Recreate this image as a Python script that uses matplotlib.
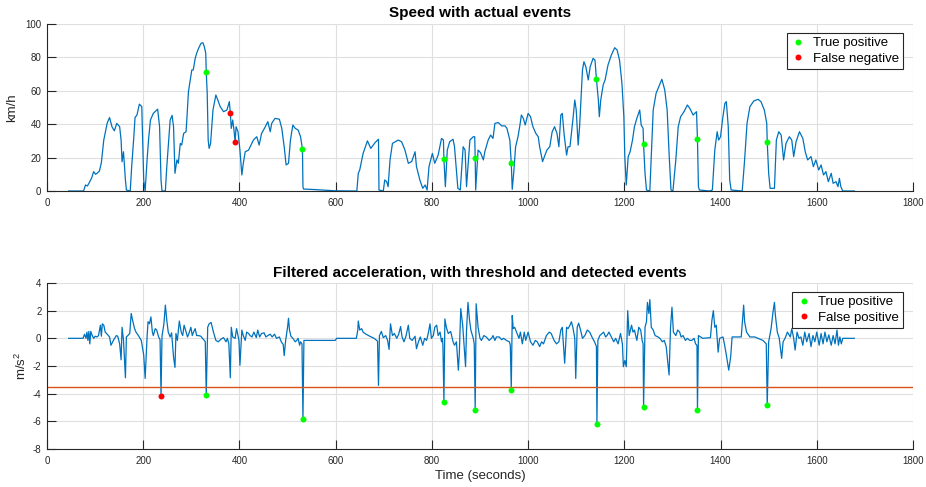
import numpy as np
import matplotlib
matplotlib.use("Agg")
import matplotlib.pyplot as plt

plt.rcParams['font.family'] = ['Liberation Sans', 'DejaVu Sans']
plt.rcParams['mathtext.default'] = 'regular'
plt.rcParams['axes.unicode_minus'] = False

# speed trace (s, km/h)
t_speed = [45, 76, 80, 84, 89, 93, 97, 101, 104, 109, 113, 118, 125, 130, 135, 140, 145, 151, 154, 156,
           159, 163, 165, 173, 176, 180, 183, 187, 192, 197, 201, 204, 208, 211, 215, 221, 230, 234, 237, 239,
           246, 249, 253, 256, 260, 263, 266, 270, 273, 277, 280, 284, 289, 291, 294, 301, 304, 308, 311, 315,
           320, 324, 327, 330, 331, 333, 335, 337, 340, 345, 351, 355, 360, 367, 374, 379, 381, 383, 386, 389,
           391, 393, 397, 401, 405, 408, 412, 419, 424, 429, 436, 441, 446, 452, 459, 464, 467, 474, 483, 488,
           493, 497, 502, 506, 511, 516, 522, 527, 531, 532, 533, 560, 600, 644, 647, 650, 657, 666, 673, 682,
           689, 690, 699, 702, 706, 709, 713, 718, 730, 737, 744, 751, 758, 765, 768, 775, 781, 786, 790, 794,
           801, 806, 813, 820, 824, 825, 828, 832, 837, 844, 847, 854, 859, 865, 869, 872, 879, 886, 889, 890,
           891, 896, 901, 907, 910, 917, 922, 927, 931, 938, 945, 952, 956, 962, 965, 967, 970, 974, 979, 983,
           986, 990, 994, 1000, 1005, 1010, 1016, 1021, 1024, 1030, 1035, 1039, 1045, 1050, 1055, 1060, 1064, 1068, 1071, 1075,
           1080, 1083, 1087, 1093, 1097, 1100, 1104, 1107, 1113, 1116, 1120, 1125, 1129, 1135, 1139, 1142, 1146, 1148, 1151, 1156,
           1160, 1166, 1173, 1180, 1185, 1190, 1195, 1199, 1201, 1204, 1208, 1212, 1217, 1221, 1226, 1232, 1235, 1239, 1240, 1243,
           1246, 1253, 1256, 1260, 1266, 1273, 1278, 1284, 1289, 1293, 1297, 1301, 1307, 1312, 1317, 1324, 1331, 1336, 1343, 1350,
           1352, 1354, 1356, 1377, 1383, 1388, 1393, 1396, 1400, 1404, 1409, 1412, 1416, 1419, 1422, 1445, 1450, 1455, 1461, 1469,
           1478, 1484, 1491, 1496, 1497, 1500, 1503, 1512, 1516, 1521, 1526, 1531, 1536, 1543, 1548, 1552, 1557, 1564, 1571, 1576,
           1581, 1588, 1593, 1598, 1604, 1609, 1614, 1619, 1624, 1630, 1634, 1640, 1644, 1647, 1650, 1654, 1678]
v_speed = [0, 0, 3.6, 3, 5.6, 8, 11.6, 10, 10.6, 12, 17, 30.5, 40.5, 44, 38.5, 36, 40.5, 38.5, 30.5, 17.5,
           23.5, 6.6, 0.6, 0, 14.6, 30.5, 44, 45.5, 52, 50.5, 6.6, 0, 18.6, 30.5, 42.5, 46.5, 49, 38.5, 6.6, 0,
           0, 14.6, 30.5, 42.5, 45.3, 38.5, 10.6, 18.6, 16.6, 28.5, 27.5, 34.5, 35.5, 44.5, 59.5, 72.5, 72.5, 79.4, 82.4, 85.4,
           88.4, 88.8, 86.4, 82.4, 71, 58.5, 30.5, 25.5, 28.5, 48.5, 57.5, 54.5, 50.5, 47.5, 48.5, 53.5, 47, 37.5, 42.5, 35.5,
           29.5, 38.5, 35.5, 24.5, 9.6, 16.6, 23.5, 24.5, 27.5, 30.5, 32.5, 27.5, 34.5, 37.5, 41.5, 35.5, 40.5, 43.5, 43, 37.5,
           26.5, 15.6, 16.6, 30.5, 39.5, 37.5, 36.5, 32.5, 25, 2.6, 1.2, 0.8, 0.1, 0, 10.6, 12.6, 22.5, 30, 25.5, 29,
           31, 0.6, 0, 6.6, 5.6, 2.6, 18.6, 28.5, 30.5, 29.5, 24.5, 16.6, 17.6, 23.5, 14.6, 6.6, 1.6, 3.6, 0.6, 14.6,
           22.5, 16.6, 21.5, 31.5, 30.5, 19, 2.6, 24.5, 29.5, 31, 26.5, 1.6, 0.6, 26.5, 24.5, 2.6, 30.5, 32.5, 32.5, 20,
           0.6, 24.5, 23, 18.6, 23.5, 30.5, 33.5, 31.5, 40.5, 41, 39, 39, 37.5, 30.5, 16.6, 1, 10.6, 26.5, 32.5, 39.5,
           45.5, 43.5, 39.5, 46.5, 44.5, 38.5, 34.5, 32.5, 26.5, 17.6, 21.5, 24.5, 26.5, 35.5, 38.5, 34.5, 26.5, 45.5, 46.5, 33.5,
           21.5, 26.5, 26.5, 42.5, 54.5, 48.5, 27.5, 38.5, 72.5, 77.4, 74.4, 66.5, 74.4, 79.4, 78.4, 67, 54.5, 44.5, 54.5, 63.5,
           66.5, 75.4, 81.4, 85.8, 84.4, 78.4, 64.5, 44.5, 20.6, 3.6, 20.6, 23.5, 30.5, 38.5, 43.5, 48.5, 39.5, 37.5, 28, 10.6,
           0.6, 0, 20.6, 48.5, 58.5, 63.5, 66.9, 60.5, 48.5, 22.5, 0.6, 0, 18.6, 38.5, 44.5, 47.5, 51.5, 49.5, 45.5, 47.5,
           31, 2.6, 0.6, 0, 0.6, 24.5, 35.5, 30.5, 32.5, 42.5, 52.5, 53.5, 38.5, 6.6, 0.6, 0, 18.6, 40.5, 50.5, 53.9,
           54.9, 53.5, 48.5, 40.5, 29.5, 10.6, 1.6, 1.6, 30.5, 35.5, 33.5, 18.6, 28.5, 32.5, 30.5, 20.6, 29.5, 35.5, 31.5, 23.5,
           18.6, 20.6, 14.6, 18.6, 12.6, 15.6, 9.6, 11.6, 5.6, 10.6, 4.6, 5.6, 2.6, 7.6, 2.6, 0, 0]

# actual events on the speed curve
tp_speed_t = [331, 531, 825, 890, 965, 1142, 1240, 1352, 1497]
tp_speed_v = [71, 25, 19, 20, 16.6, 67, 28, 31, 29.5]
fn_speed_t = [381, 391]
fn_speed_v = [47, 29.5]

# filtered acceleration (s, m/s^2)
t_acc = [45, 75, 78, 81, 83, 85, 87, 89, 91, 94, 97, 100, 104, 107, 111, 113, 115, 118, 121, 125,
         130, 133, 138, 144, 147, 151, 154, 156, 159, 163, 165, 168, 172, 175, 178, 182, 185, 190, 196, 201,
         204, 208, 210, 213, 216, 219, 221, 225, 228, 232, 235, 237, 239, 243, 246, 249, 252, 256, 259, 263,
         266, 268, 271, 275, 279, 282, 285, 288, 292, 295, 299, 302, 304, 308, 311, 315, 320, 323, 327, 329,
         331, 334, 337, 341, 346, 351, 356, 362, 367, 372, 375, 378, 381, 383, 386, 391, 394, 399, 401, 405,
         408, 412, 415, 419, 422, 426, 430, 435, 438, 442, 446, 451, 455, 459, 464, 468, 473, 477, 483, 487,
         491, 493, 496, 500, 502, 504, 507, 511, 516, 519, 522, 525, 527, 530, 532, 534, 599, 602, 643, 646,
         647, 650, 654, 657, 663, 671, 680, 687, 689, 691, 695, 699, 704, 708, 711, 714, 718, 722, 727, 731,
         735, 738, 742, 746, 751, 754, 759, 765, 768, 772, 776, 781, 785, 789, 793, 796, 799, 803, 806, 810,
         813, 817, 820, 822, 823, 825, 827, 830, 834, 839, 844, 847, 851, 855, 857, 860, 864, 867, 870, 872,
         875, 878, 881, 886, 888, 890, 892, 896, 900, 903, 908, 913, 919, 924, 927, 931, 934, 940, 945, 949,
         955, 961, 963, 965, 967, 969, 972, 976, 981, 984, 988, 992, 995, 1000, 1005, 1010, 1015, 1019, 1024, 1028,
         1032, 1038, 1044, 1048, 1054, 1059, 1064, 1068, 1071, 1076, 1080, 1083, 1087, 1090, 1093, 1097, 1099, 1102, 1105, 1109,
         1113, 1118, 1123, 1128, 1134, 1138, 1142, 1143, 1145, 1149, 1154, 1157, 1161, 1164, 1168, 1173, 1178, 1182, 1187, 1192,
         1196, 1198, 1201, 1204, 1207, 1210, 1215, 1218, 1221, 1226, 1230, 1234, 1237, 1239, 1240, 1243, 1246, 1248, 1251, 1253,
         1256, 1260, 1264, 1270, 1274, 1279, 1283, 1287, 1290, 1293, 1296, 1299, 1302, 1307, 1311, 1315, 1318, 1322, 1327, 1331,
         1336, 1340, 1345, 1348, 1351, 1352, 1354, 1363, 1379, 1382, 1385, 1388, 1391, 1395, 1398, 1405, 1408, 1412, 1417, 1421,
         1424, 1443, 1448, 1450, 1454, 1461, 1471, 1478, 1488, 1495, 1497, 1500, 1505, 1509, 1512, 1514, 1518, 1522, 1527, 1530,
         1534, 1539, 1545, 1548, 1552, 1555, 1559, 1563, 1567, 1571, 1575, 1579, 1584, 1588, 1592, 1596, 1600, 1605, 1609, 1613,
         1617, 1621, 1625, 1630, 1634, 1638, 1642, 1645, 1648, 1651, 1654, 1678]
a_acc = [0, 0, 0.3, 0, 0.45, -0.15, 0.5, -0.4, 0.5, 0.2, 0, 0.15, 0.1, 0.2, 0.95, 0.15, 1.05, 0.95, 0.45, 0.3,
         0.1, -0.5, -0.15, 0.2, 0.15, -0.4, -1.55, 0.8, -0.15, -2.85, 0.1, 0.2, 0.35, 1.8, 1.3, 0.7, 0.45, 0.2, -0.15, -1.2,
         -2.9, 0.1, 1.2, 1.05, 1.55, 0.45, 0.2, 0.7, 0.6, 0.1, -0.1, -4.15, 0.15, 1.05, 2.4, 1.3, 0.45, 0.1, 0.4, -1.35,
         -2.1, 0.35, -0.15, 1.25, 0.45, 0.2, 0.95, 0.6, 0.1, 0.35, 0.8, 0.2, 0.4, 0.7, 0.2, 0.2, 0.15, 0, -0.15, -0.25,
         -4.1, 0.8, 1.05, 1.15, 0.45, -0.15, -0.25, -0.05, 0.05, -0.25, 0, -0.4, -2.85, 0.8, 0.1, 0, 0.7, -0.15, -1.95, 0.6,
         0.2, -0.15, 0.45, 0.35, 0.2, 0.1, 0.45, 0.05, 0.6, 0.1, 0.35, 0.4, 0.1, 0.2, 0.3, 0.1, 0.3, 0, 0.1, -0.25,
         -0.45, -1.25, -0.15, 0.8, 1.45, 0.6, 0.15, 0, -0.25, -0.15, 0, -0.5, -0.25, -0.4, -5.85, -0.15, -0.15, 0, 0, 0.6,
         1.25, 0.6, 0.7, 0.45, 0.3, 0.15, 0, -0.2, -3.4, 0.2, 0.5, 0.05, 0.2, -0.15, -0.8, 1.05, 0.2, 0.35, 0, 0.3,
         0.85, 0.1, -0.25, 0.15, 0.95, 0, -0.15, 0.15, -0.75, -0.25, 0.1, -0.5, 0, -0.15, 0.45, 1.05, 0, 0.2, 0.8, 0.95,
         0.2, 0.45, -0.25, 0, -0.6, -4.6, 1.4, 0.8, 0.35, 0.5, -0.25, -0.5, -0.25, -2.3, -1.1, 2.15, 0.95, -0.5, -2.05, 0.6,
         2.6, 1.4, 0.6, 0, -0.4, -5.15, 2.5, 0.8, 0, -0.15, 0.2, 0.1, -0.15, 0, 0.2, -0.15, 0.1, 0.1, -0.1, 0,
         -0.15, -0.25, -0.5, -3.7, 1.65, 0.7, 0.8, 0.45, 0, 0.45, -0.4, 0.45, -0.15, 0.45, -0.25, -0.5, -0.15, -0.25, -0.6, -0.25,
         -0.4, 0.2, 0.45, 0.35, -0.15, -0.4, -0.25, 0.6, 0.8, -1.8, 0.8, 0.7, 0.95, 1.2, 0.8, 0, -2.9, 0.8, 1.1, 0.6,
         0, 0.2, 0.6, 0.45, 0, -0.25, -0.6, -6.2, -0.15, 0.2, 0.35, 0.45, 0.1, 0.2, 0.45, 0.1, -0.25, 0, -0.4, 0.35,
         -0.4, -2.05, -1.6, -2.05, 2.0, 0.2, 0.95, 0.45, 0.6, -0.15, 0.8, 0.6, -0.15, -0.4, -4.95, 0.8, 1.2, 2.6, 1.8, 2.8,
         0.8, 0.6, 0.2, 0.1, 0, -0.25, -0.15, -0.6, -1.6, -2.65, 0.8, 2.25, 0.45, 0.2, 0.6, 0.45, 0.1, 0.2, -0.15, 0,
         -0.15, -0.15, 0, -0.4, -0.5, -5.2, 0.2, 0, 0.05, 1.3, 2.0, 0.8, 0.95, -1.0, 0, 0.1, -0.4, -1.2, -2.3, -1.35,
         0.1, 0.1, 2.4, 1.2, 0.45, 0.1, 0.1, 0, -0.15, -0.4, -4.85, -0.25, 0.7, 1.9, 2.6, 1.65, 0.45, 0, -1.45, -0.25,
         0, 0.45, 0.1, 0.7, 0, -0.85, 0.45, 0, 0.1, -0.5, 0.45, -0.25, 0.35, -0.6, 0.2, -0.25, 0.45, -0.5, 0.35, -0.4,
         0.45, -0.25, 0.25, -0.5, 0.2, -0.4, 0.6, -0.5, 0.1, -0.4, 0, 0]

# detected events on the acceleration curve
tp_acc_t = [331, 532, 825, 890, 965, 1143, 1240, 1352, 1497]
tp_acc_a = [-4.1, -5.85, -4.6, -5.15, -3.7, -6.2, -4.95, -5.2, -4.85]
fp_acc_t = [237]
fp_acc_a = [-4.15]
threshold = -3.5

line_col = '#0072BD'
thr_col = '#D95319'
txt_col = '#262626'


def style_axes(ax):
    for s in ['top', 'right']:
        ax.spines[s].set_visible(False)
    for s in ['left', 'bottom']:
        ax.spines[s].set_color(txt_col)
        ax.spines[s].set_linewidth(0.8)
    ax.grid(True, color='#dfdfdf', linewidth=0.8)
    ax.set_axisbelow(True)
    ax.tick_params(direction='in', length=6.2, width=0.8, colors=txt_col, labelsize=7)
    ax.tick_params(axis='x', pad=5)
    ax.tick_params(axis='y', pad=4)
    ax.set_xlim(0, 1800)
    ax.set_xticks(np.arange(0, 1801, 200))


def add_legend(ax):
    leg = ax.legend(loc='upper right', bbox_to_anchor=(0.9885, 0.946), fontsize=9.5, fancybox=False,
                    framealpha=1, edgecolor=txt_col, handlelength=1.2, handletextpad=0.5,
                    borderpad=0.3, labelspacing=0.25, borderaxespad=0)
    leg.get_frame().set_linewidth(0.8)


fig = plt.figure(figsize=(9.26, 4.87), dpi=100)

ax1 = fig.add_axes([47 / 926, 1 - 191 / 487, 866 / 926, 167 / 487])
style_axes(ax1)
ax1.plot(t_speed, v_speed, color=line_col, lw=0.9)
ax1.plot(tp_speed_t, tp_speed_v, 'o', color='#00FF00', ms=4.3, mew=0, label='True positive')
ax1.plot(fn_speed_t, fn_speed_v, 'o', color='#FF0000', ms=4.3, mew=0, label='False negative')
ax1.set_ylim(0, 100)
ax1.set_yticks(np.arange(0, 101, 20))
ax1.set_ylabel('km/h', fontsize=9.5, color=txt_col, labelpad=5)
ax1.set_title('Speed with actual events', fontsize=11, fontweight='bold', pad=5)
add_legend(ax1)

ax2 = fig.add_axes([47 / 926, 1 - 449 / 487, 866 / 926, 166 / 487])
style_axes(ax2)
ax2.plot(t_acc, a_acc, color=line_col, lw=0.9)
ax2.axhline(threshold, color=thr_col, lw=1.0)
ax2.plot(tp_acc_t, tp_acc_a, 'o', color='#00FF00', ms=4.3, mew=0, label='True positive')
ax2.plot(fp_acc_t, fp_acc_a, 'o', color='#FF0000', ms=4.3, mew=0, label='False positive')
ax2.set_ylim(-8, 4)
ax2.set_yticks(np.arange(-8, 5, 2))
ax2.set_ylabel('m/s$^2$', fontsize=9.5, color=txt_col, labelpad=3)
ax2.set_xlabel('Time (seconds)', fontsize=9.5, color=txt_col, labelpad=3)
ax2.set_title('Filtered acceleration, with threshold and detected events', fontsize=11,
              fontweight='bold', pad=5)
add_legend(ax2)

fig.savefig('out.png', dpi=100)
